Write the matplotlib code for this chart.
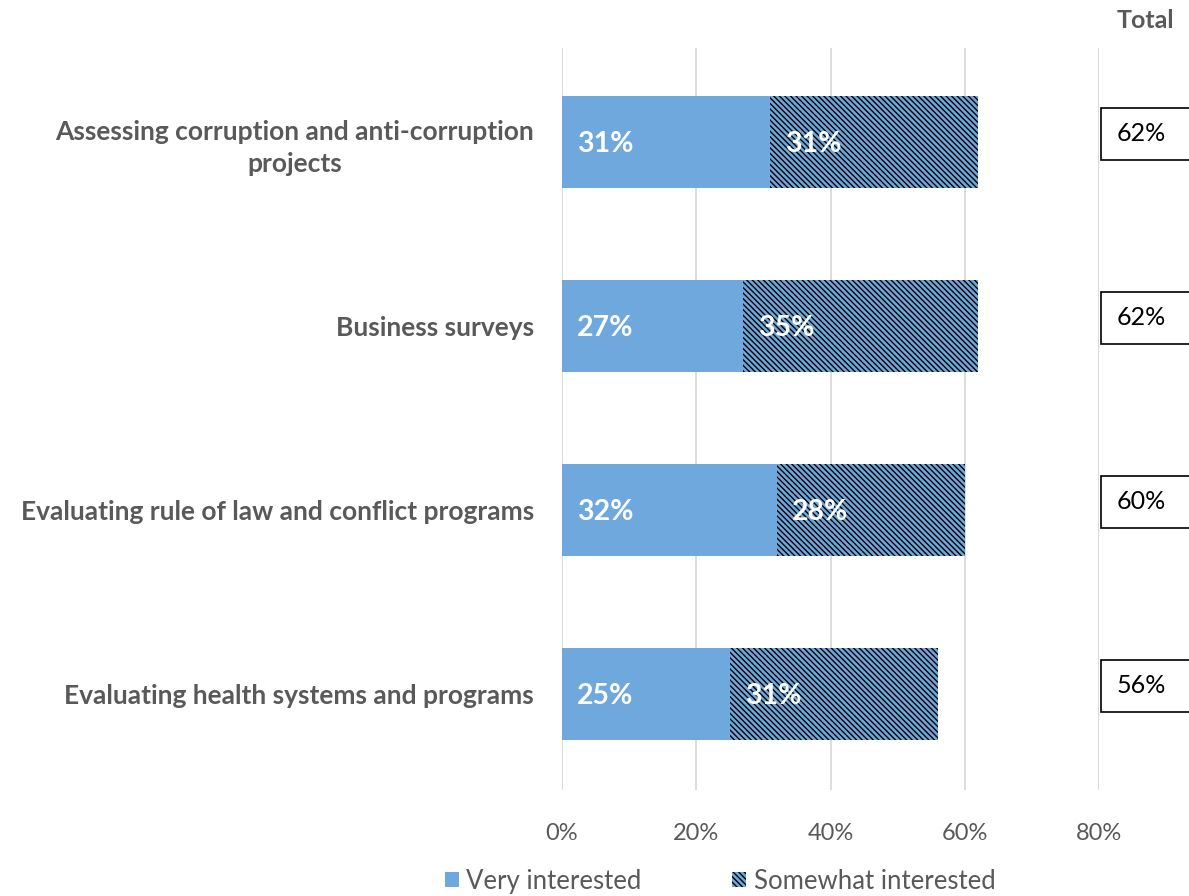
import matplotlib
matplotlib.use("Agg")
import matplotlib.pyplot as plt
import matplotlib.transforms as mtransforms
from matplotlib.patches import Patch, Rectangle

plt.rcParams["font.family"] = ["Lato", "DejaVu Sans"]
plt.rcParams["hatch.linewidth"] = 1.0
plt.rcParams["hatch.color"] = "black"

categories = [
    "Assessing corruption and anti-corruption\nprojects",
    "Business surveys",
    "Evaluating rule of law and conflict programs",
    "Evaluating health systems and programs",
]
very_interested = [31, 27, 32, 25]
somewhat_interested = [31, 35, 28, 31]
x_ticks = [0, 20, 40, 60, 80]
x_tick_labels = ["0%", "20%", "40%", "60%", "80%"]
series_names = ["Very interested", "Somewhat interested"]

BLUE = "#6FA8DC"
GREY = "#595959"
HATCH = "\\" * 6

W, H = 1189, 896
fig = plt.figure(figsize=(W / 100, H / 100), dpi=100)
ax = fig.add_axes([562 / W, 1 - 790 / H, (1099 - 562) / W, (790 - 48) / H])

ypos = list(range(len(categories)))
ax.barh(ypos, very_interested, height=0.5, color=BLUE, edgecolor="none")
ax.barh(ypos, somewhat_interested, left=very_interested, height=0.5,
        color=BLUE, edgecolor="black", linewidth=0, hatch=HATCH)

off = mtransforms.offset_copy(ax.transData, fig=fig, x=15, y=-2, units="dots")
for y, v, s in zip(ypos, very_interested, somewhat_interested):
    ax.text(0, y, f"{v}%", transform=off, ha="left", va="center",
            color="white", fontsize=20.5, fontweight="bold")
    ax.text(v, y, f"{s}%", transform=off, ha="left", va="center",
            color="white", fontsize=20.5, fontweight="bold")

ax.set_xlim(0, 80)
ax.set_ylim(len(categories) - 0.48, -0.51)
ax.set_xticks(x_ticks)
ax.set_xticklabels(x_tick_labels)
ax.set_yticks(ypos)
ax.set_yticklabels(categories, fontweight="bold", fontsize=19, color=GREY,
                   ha="right", multialignment="center", linespacing=1.4)
ax.tick_params(axis="y", length=0, pad=20)
ax.tick_params(axis="x", length=0, pad=24, labelsize=17, labelcolor=GREY)
ax.grid(axis="x", color="#D9D9D9", linewidth=1.3)
ax.set_axisbelow(True)
for sp in ax.spines.values():
    sp.set_visible(False)

# Totals column to the right of the plot
blend = mtransforms.blended_transform_factory(fig.transFigure, ax.transData)
for y, v, s in zip(ypos, very_interested, somewhat_interested):
    yc = y - 0.045
    rect = Rectangle((1101 / W, yc - 0.141), 120 / W, 0.282, transform=blend,
                     facecolor="white", edgecolor="black", linewidth=1.2,
                     clip_on=False)
    fig.add_artist(rect)
    fig.text(1141 / W, yc, f"{v + s}%", transform=blend, ha="center",
             va="center", fontsize=18, color="black")
fig.text(1145 / W, 1 - 21 / H, "Total", ha="center", va="center",
         fontsize=18, fontweight="bold", color=GREY)

handles = [Patch(facecolor=BLUE, edgecolor="none"),
           Patch(facecolor=BLUE, edgecolor="black", linewidth=0, hatch=HATCH)]
leg = fig.legend(handles, series_names, loc="center", ncol=2,
                 bbox_to_anchor=(720 / W, 1 - 881 / H), frameon=False,
                 fontsize=18.5, handlelength=0.55, handleheight=0.55,
                 handletextpad=0.3, columnspacing=3.5, labelcolor=GREY)

fig.savefig("out.png", dpi=100)
